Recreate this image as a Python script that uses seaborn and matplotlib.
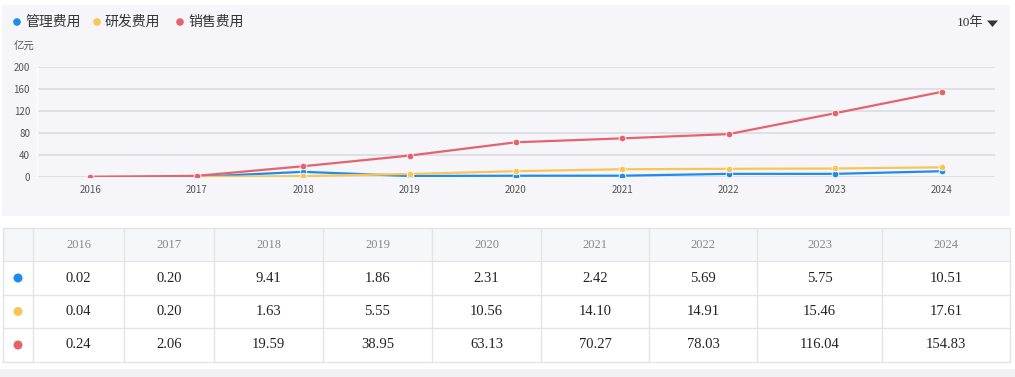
import matplotlib
matplotlib.use("Agg")
import matplotlib.pyplot as plt
import seaborn as sns
import pandas as pd
from matplotlib.patches import Rectangle, Circle, Polygon

years = ["2016", "2017", "2018", "2019", "2020", "2021", "2022", "2023", "2024"]
series_names = ["管理费用", "研发费用", "销售费用"]
mgmt = [0.02, 0.20, 9.41, 1.86, 2.31, 2.42, 5.69, 5.75, 10.51]
rnd = [0.04, 0.20, 1.63, 5.55, 10.56, 14.10, 14.91, 15.46, 17.61]
sales = [0.24, 2.06, 19.59, 38.95, 63.13, 70.27, 78.03, 116.04, 154.83]
colors = ["#1f8ceb", "#f9c556", "#e5636a"]
yticks = [0, 40, 80, 120, 160, 200]
unit_label = "亿元"
period_label = "10年"

sns.set_theme(style="white")
plt.rcParams["font.family"] = ["Noto Sans CJK SC", "DejaVu Sans"]

W, H = 1015, 377
fig = plt.figure(figsize=(W / 100, H / 100), dpi=100)
fig.patch.set_facecolor("white")

# overlay axes in pixel coordinates
ov = fig.add_axes([0, 0, 1, 1], zorder=0)
ov.set_xlim(0, W)
ov.set_ylim(H, 0)
ov.axis("off")

# chart panel background
ov.add_patch(Rectangle((2, 5), 1008, 211, facecolor="#f6f6fa", edgecolor="none"))

# legend
lx = [17, 97, 180]
for x, name, c in zip(lx, series_names, colors):
    ov.add_patch(Circle((x, 22), 3.8, facecolor=c, edgecolor="none"))
    ov.text(x + 8, 22, name, fontsize=10, color="#333333", va="center", ha="left")

ov.text(983, 23, period_label, fontsize=9.5, color="#333333", va="center", ha="right",
        family=["Liberation Serif", "Noto Sans CJK SC"])
ov.add_patch(Polygon([[987, 20.5], [998, 20.5], [992.5, 27]], closed=True,
                     facecolor="#333333", edgecolor="none"))
ov.text(14, 47, unit_label, fontsize=7.5, color="#555555", va="center", ha="left")

# chart axes
L, R, T, B = 37, 995, 67, 177
ax = fig.add_axes([L / W, (H - B) / H, (R - L) / W, (B - T) / H], zorder=1)
ax.set_facecolor("none")

df = pd.DataFrame({
    "year": years * 3,
    "value": mgmt + rnd + sales,
    "series": [series_names[0]] * 9 + [series_names[1]] * 9 + [series_names[2]] * 9,
})
sns.lineplot(data=df, x="year", y="value", hue="series", palette=colors,
             hue_order=series_names, marker="o", markersize=4.8,
             markeredgecolor="white", markeredgewidth=0.6, linewidth=1.6,
             legend=False, ax=ax, sort=False)

ax.set_xlim(-0.5, len(years) - 0.5)
ax.set_ylim(0, 200)
ax.set_yticks(yticks)
ax.set_yticklabels([str(v) for v in yticks])
ax.grid(axis="y", color="#dfdfe6", linewidth=1.4)
ax.grid(axis="x", visible=False)
ax.set_axisbelow(True)
for s in ["top", "right", "bottom"]:
    ax.spines[s].set_visible(False)
ax.spines["left"].set_color("#ffffff")
ax.spines["left"].set_linewidth(1.0)
ax.tick_params(axis="both", length=0, labelsize=7, labelcolor="#555555")
ax.tick_params(axis="y", pad=5)
ax.tick_params(axis="x", pad=6)
ax.set_xlabel("")
ax.set_ylabel("")

# table
col_edges = [3, 33, 124, 214, 323, 432, 541, 649, 757, 882, 1010]
row_edges = [228, 261, 295, 328, 362]
line_c = "#e4e4e4"
ov.add_patch(Rectangle((col_edges[0], row_edges[0]), col_edges[-1] - col_edges[0],
                       row_edges[1] - row_edges[0], facecolor="#f5f7f9", edgecolor="none"))
for y in row_edges:
    ov.plot([col_edges[0], col_edges[-1]], [y, y], color=line_c, lw=1.0)
for x in col_edges:
    ov.plot([x, x], [row_edges[0], row_edges[-1]], color=line_c, lw=1.0)

serif = ["Liberation Serif", "DejaVu Serif"]
for i, yr in enumerate(years):
    cx = (col_edges[i + 1] + col_edges[i + 2]) / 2
    ov.text(cx, (row_edges[0] + row_edges[1]) / 2, yr, fontsize=9, color="#888888",
            ha="center", va="center", family=serif)
for r, (vals, c) in enumerate(zip([mgmt, rnd, sales], colors)):
    cy = (row_edges[r + 1] + row_edges[r + 2]) / 2
    ov.add_patch(Circle((18, cy), 4.5, facecolor=c, edgecolor="none"))
    for i, v in enumerate(vals):
        cx = (col_edges[i + 1] + col_edges[i + 2]) / 2
        ov.text(cx, cy, f"{v:.2f}", fontsize=10.5, color="#222222",
                ha="center", va="center", family=serif)

# bottom strip
ov.add_patch(Rectangle((0, 369), W, 8, facecolor="#f2f2f4", edgecolor="none"))

fig.savefig("out.png", dpi=100, facecolor="white")
